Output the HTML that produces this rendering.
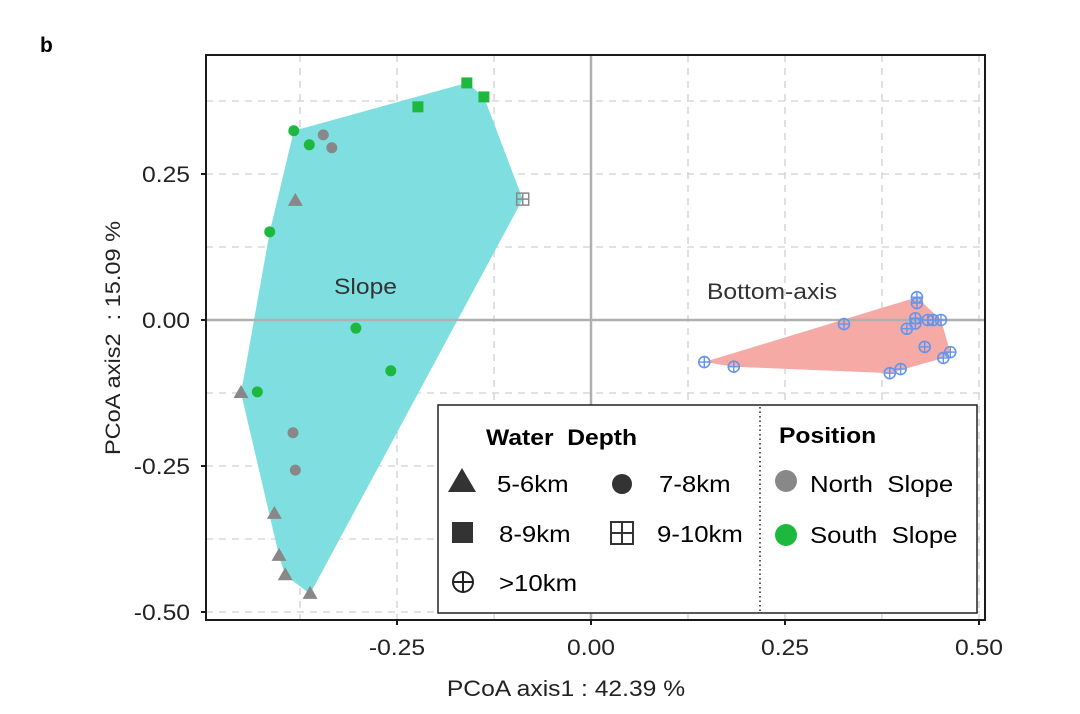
<!DOCTYPE html>
<html><head><meta charset="utf-8">
<style>
body{margin:0;background:#fff;}
svg{display:block;font-family:"Liberation Sans",Arial,sans-serif;}
</style></head>
<body>
<svg id="chart" width="1080" height="714" viewBox="0 0 1080 714">
<text x="40" y="52" font-size="21" font-weight="bold">b</text>
<g id="grid"></g>
<g id="hulls"></g>
<g id="pts"></g>
<g id="axes"></g>
<g id="legend">
<rect x="438" y="405" width="539" height="208" fill="#fff" stroke="#222" stroke-width="1.5"/>
<line x1="760" y1="407" x2="760" y2="611" stroke="#222" stroke-width="1.5" stroke-dasharray="1.5,3"/>
<text class="s" x="486" y="445" font-size="22" font-weight="bold">Water &#160;Depth</text>
<text class="s" x="779" y="443" font-size="22" font-weight="bold">Position</text>
<g><polygon points="448,492 476,492 462,468" fill="#333"/><text class="s" x="497" y="492" font-size="23">5-6km</text></g>
<g><circle cx="622" cy="484" r="10" fill="#333"/><text class="s" x="659" y="492" font-size="23">7-8km</text></g>
<g><rect x="452" y="522" width="21" height="21" fill="#333"/><text class="s" x="499" y="542" font-size="23">8-9km</text></g>
<g><rect x="611" y="522" width="22" height="22" fill="none" stroke="#333" stroke-width="2"/><line x1="622" y1="522" x2="622" y2="544" stroke="#333" stroke-width="2"/><line x1="611" y1="533" x2="633" y2="533" stroke="#333" stroke-width="2"/><text class="s" x="657" y="542" font-size="23">9-10km</text></g>
<g><circle cx="463" cy="582" r="10" fill="none" stroke="#222" stroke-width="2"/><line x1="453" y1="582" x2="473" y2="582" stroke="#222" stroke-width="2"/><line x1="463" y1="572" x2="463" y2="592" stroke="#222" stroke-width="2"/><text class="s" x="499" y="591" font-size="23">&gt;10km</text></g>
<g><circle cx="786" cy="481" r="11" fill="#888"/><text class="s" x="810" y="492" font-size="23">North &#160;Slope</text></g>
<g><circle cx="786" cy="535" r="11" fill="#1db93e"/><text class="s" x="810" y="543" font-size="23">South &#160;Slope</text></g>
</g>
</svg>
<script>
const xTicks=[-0.25,0,0.25,0.5];
const xTickLabels=["-0.25","0.00","0.25","0.50"];
const yTicks=[0.25,0,-0.25,-0.5];
const yTickLabels=["0.25","0.00","-0.25","-0.50"];
const gridX=[-0.375,-0.25,-0.125,0.125,0.25,0.375,0.5];
const gridY=[0.375,0.25,0.125,-0.125,-0.25,-0.375,-0.5];
const slopeX=[-0.383,-0.363,-0.414,-0.303,-0.258,-0.430,-0.345,-0.334,-0.384,-0.381,-0.381,-0.451,-0.408,-0.402,-0.394,-0.362,-0.223,-0.160,-0.138,-0.088];
const slopeY=[0.324,0.300,0.151,-0.014,-0.087,-0.123,0.317,0.295,-0.193,-0.257,0.204,-0.125,-0.332,-0.404,-0.437,-0.469,0.365,0.406,0.382,0.207];
const slopeShape=["circle","circle","circle","circle","circle","circle","circle","circle","circle","circle","triangle","triangle","triangle","triangle","triangle","triangle","square","square","square","grid"];
const slopePos=["S","S","S","S","S","S","N","N","N","N","N","N","N","N","N","N","S","S","S","N"];
const bottomX=[0.146,0.184,0.326,0.385,0.399,0.420,0.420,0.418,0.418,0.407,0.430,0.434,0.441,0.451,0.454,0.463];
const bottomY=[-0.072,-0.080,-0.007,-0.091,-0.084,0.039,0.029,0.003,-0.006,-0.015,-0.046,0.000,0.000,0.000,-0.065,-0.055];

const L=206,R=985,T=55,B=620;
const sx=v=>591+v*776, sy=v=>320-v*584;
const NS="http://www.w3.org/2000/svg";
function mk(tag,attrs,parent){const e=document.createElementNS(NS,tag);for(const k in attrs)e.setAttribute(k,attrs[k]);parent.appendChild(e);return e;}
const grid=document.getElementById('grid'),hulls=document.getElementById('hulls'),pts=document.getElementById('pts'),axes=document.getElementById('axes');
mk('rect',{x:L,y:T,width:R-L,height:B-T,fill:'#fff'},grid);
gridX.forEach(v=>{const l=mk('line',{x1:sx(v),x2:sx(v),y1:T,y2:B,stroke:'#d0d0d0','stroke-width':1.3,'stroke-dasharray':'7,6'},grid);

});
gridY.forEach(v=>{const l=mk('line',{x1:L,x2:R,y1:sy(v),y2:sy(v),stroke:'#d0d0d0','stroke-width':1.3,'stroke-dasharray':'7,6'},grid);

});
function hull(P){P=P.slice().sort((a,b)=>a[0]-b[0]||a[1]-b[1]);const cr=(o,a,b)=>(a[0]-o[0])*(b[1]-o[1])-(a[1]-o[1])*(b[0]-o[0]);const lo=[],up=[];for(const p of P){while(lo.length>=2&&cr(lo[lo.length-2],lo[lo.length-1],p)<=0)lo.pop();lo.push(p);}for(const p of P.slice().reverse()){while(up.length>=2&&cr(up[up.length-2],up[up.length-1],p)<=0)up.pop();up.push(p);}return lo.slice(0,-1).concat(up.slice(0,-1));}
const sh=hull(slopeX.map((x,i)=>[sx(x),sy(slopeY[i])]));
const h1=mk('polygon',{points:sh.map(p=>p.join(',')).join(' '),fill:'#7fdfe0'},hulls);


const bh=hull(bottomX.map((x,i)=>[sx(x),sy(bottomY[i])]));
const h2=mk('polygon',{points:bh.map(p=>p.join(',')).join(' '),fill:'#f5aaa5'},hulls);


const z1=mk('line',{x1:sx(0),x2:sx(0),y1:T,y2:B,stroke:'#b0b0b0','stroke-width':2.5},hulls);


const z2=mk('line',{x1:L,x2:R,y1:sy(0),y2:sy(0),stroke:'#b0b0b0','stroke-width':2.5},hulls);


const t1=mk('text',{x:334,y:294,'font-size':22,fill:'#333',class:'s'},hulls);t1.textContent='Slope';


const t2=mk('text',{x:707,y:299,'font-size':22,fill:'#333',class:'s'},hulls);t2.textContent='Bottom-axis';


slopeX.forEach((xv,i)=>{const x=sx(xv),y=sy(slopeY[i]);const c=slopePos[i]=='N'?'#888':'#1db93e';let e;
if(slopeShape[i]=='circle')e=mk('circle',{cx:x,cy:y,r:5.5,fill:c},pts);
else if(slopeShape[i]=='triangle')e=mk('polygon',{points:`${x-7.5},${y+5} ${x+7.5},${y+5} ${x},${y-8}`,fill:c},pts);
else if(slopeShape[i]=='square')e=mk('rect',{x:x-5.5,y:y-5.5,width:11,height:11,fill:c},pts);
else{e=mk('g',{},pts);mk('rect',{x:x-6,y:y-6,width:12,height:12,fill:'none',stroke:c,'stroke-width':1.5},e);mk('line',{x1:x,x2:x,y1:y-6,y2:y+6,stroke:c,'stroke-width':1.5},e);mk('line',{x1:x-6,x2:x+6,y1:y,y2:y,stroke:c,'stroke-width':1.5},e);}

});
bottomX.forEach((xv,i)=>{const x=sx(xv),y=sy(bottomY[i]);const g=mk('g',{},pts);
mk('circle',{cx:x,cy:y,r:5.5,fill:'none',stroke:'#6495ed','stroke-width':1.6},g);
mk('line',{x1:x-5.5,x2:x+5.5,y1:y,y2:y,stroke:'#6495ed','stroke-width':1.4},g);
mk('line',{x1:x,x2:x,y1:y-5.5,y2:y+5.5,stroke:'#6495ed','stroke-width':1.4},g);

});
const fr=mk('rect',{x:L,y:T,width:R-L,height:B-T,fill:'none',stroke:'#1a1a1a','stroke-width':2},axes);


xTicks.forEach((v,i)=>{mk('line',{x1:sx(v),x2:sx(v),y1:B,y2:B+5,stroke:'#1a1a1a','stroke-width':2},axes);
const t=mk('text',{x:sx(v),y:655,'font-size':22,'text-anchor':'middle',fill:'#222',class:'s'},axes);t.textContent=xTickLabels[i];

});
yTicks.forEach((v,i)=>{mk('line',{x1:L-5,x2:L,y1:sy(v),y2:sy(v),stroke:'#1a1a1a','stroke-width':2},axes);
const t=mk('text',{x:190,y:sy(v)+8,'font-size':22,'text-anchor':'end',fill:'#222',class:'s'},axes);t.textContent=yTickLabels[i];

});
const xt=mk('text',{x:566,y:696,'font-size':22,'text-anchor':'middle',fill:'#222',class:'s'},axes);xt.textContent='PCoA axis1 : 42.39 %';


const yt=mk('text',{x:0,y:0,'font-size':21,'text-anchor':'middle',fill:'#222',class:'s',transform:'translate(120,338) rotate(-90)'},axes);yt.textContent='PCoA axis2 \u00a0: 15.09 %';


document.querySelectorAll('text.s').forEach(t=>{const w=t.getComputedTextLength();t.setAttribute('textLength',(w*1.12).toFixed(1));t.setAttribute('lengthAdjust','spacingAndGlyphs');});
</script>
</body></html>
